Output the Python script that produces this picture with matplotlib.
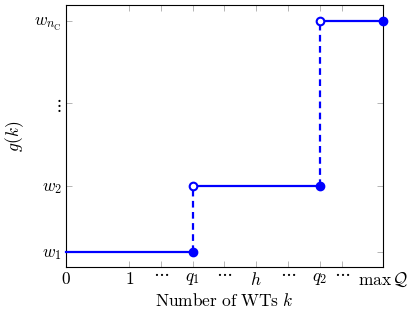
import matplotlib
matplotlib.use("Agg")
import matplotlib.pyplot as plt
from matplotlib.transforms import ScaledTranslation

plt.rcParams['mathtext.fontset'] = 'cm'
plt.rcParams['font.family'] = 'serif'
plt.rcParams['font.serif'] = ['cmr10', 'DejaVu Serif']
plt.rcParams['axes.formatter.use_mathtext'] = True

# x tick positions and labels
x_ticks = [0, 1, 1.5, 2, 2.5, 3, 3.5, 4, 4.35, 5]
x_labels = ["$0$", "$1$", r"$\cdots$", "$q_1$", r"$\cdots$", "$h$",
            r"$\cdots$", "$q_2$", r"$\cdots$", r"$\max\,\mathcal{Q}$"]

# y tick positions and labels
y_ticks = [1, 2, 3.25, 4.5]
y_labels = ["$w_1$", "$w_2$", r"$\vdots$", r"$w_{n_\mathrm{C}}$"]

# step function: level segments (x start, x end, value)
q1, q2, qmax = 2, 4, 5
w1, w2, wn = 1, 2, 4.5
seg_x = [(0, q1), (q1, q2), (q2, qmax)]
seg_y = [w1, w2, wn]
jump_x = [q1, q2]
jump_y = [(w1, w2), (w2, wn)]

fig = plt.figure(figsize=(4.07, 3.13), dpi=100)
ax = fig.add_axes([0.162, 0.147, 0.779, 0.837])

blue = '#0000ff'
for (xa, xb), yv in zip(seg_x, seg_y):
    ax.plot([xa, xb], [yv, yv], color=blue, lw=1.6, clip_on=False, zorder=3)
for xv, (ya, yb) in zip(jump_x, jump_y):
    ax.plot([xv, xv], [ya, yb], color=blue, lw=1.6, ls=(0, (3, 2)), zorder=3)

# filled dots at right end of each level
ax.plot([q1, q2, qmax], [w1, w2, wn], 'o', color=blue, ms=6, clip_on=False, zorder=5)
# open circles at left end after jumps
ax.plot(jump_x, [w2, wn], 'o', mfc='white', mec=blue, mew=1.5, ms=5.5, zorder=5)

fs = 12.5
ax.set_xlim(0, 5)
ax.set_ylim(0.77, 4.74)
ax.set_xticks(x_ticks)
ax.set_xticklabels(x_labels, fontsize=fs)
ax.set_yticks(y_ticks)
ax.set_yticklabels(y_labels, fontsize=fs)
ax.tick_params(direction='in', top=True, right=True, length=4, width=0.5,
               color='0.6', pad=3)
for s in ax.spines.values():
    s.set_linewidth(0.8)

# raise the dots labels like pgfplots does
for lbl in ax.get_xticklabels():
    if 'cdots' in lbl.get_text():
        lbl.set_transform(lbl.get_transform() + ScaledTranslation(0, 5 / 72, fig.dpi_scale_trans))

ax.set_xlabel(r"$\mathrm{Number\ of\ WTs}\ k$", fontsize=fs, labelpad=2)
ax.set_ylabel(r"$g(k)$", fontsize=fs, labelpad=6)

fig.savefig("out.png", dpi=100)
